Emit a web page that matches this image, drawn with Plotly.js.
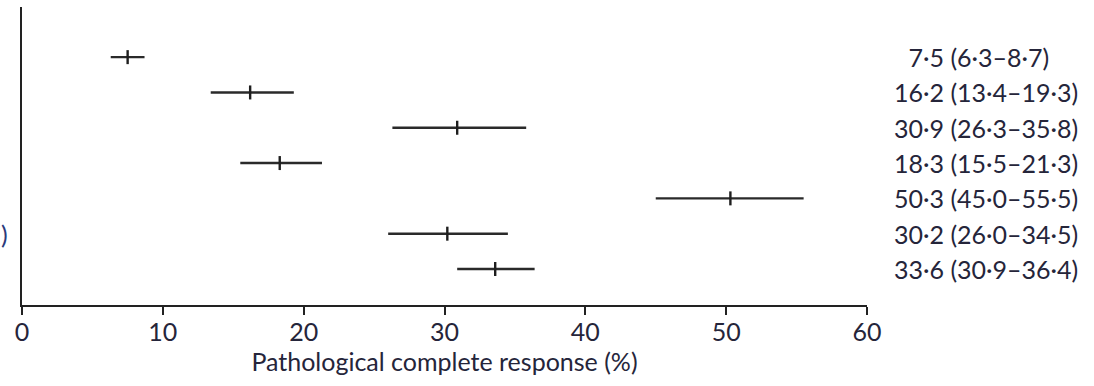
<!DOCTYPE html>
<html>
<head>
<meta charset="utf-8">
<script src="https://cdn.plot.ly/plotly-3.0.1.min.js"></script>
<style>html,body{margin:0;padding:0;background:#fff;}#chart{width:1094px;height:386px;}</style>
</head>
<body>
<div id="chart"></div>
<script>
const rows = ['r1','r2','r3','r4','r5','r6','r7'];
const estimate = [7.5, 16.2, 30.9, 18.3, 50.3, 30.2, 33.6];
const ciLow = [6.3, 13.4, 26.3, 15.5, 45.0, 26.0, 30.9];
const ciHigh = [8.7, 19.3, 35.8, 21.3, 55.5, 34.5, 36.4];
const rightLabels = ['\u20077·5 (6·3–8·7)', '16·2 (13·4–19·3)', '30·9 (26·3–35·8)', '18·3 (15·5–21·3)', '50·3 (45·0–55·5)', '30·2 (26·0–34·5)', '33·6 (30·9–36·4)'];
const tickVals = [0, 10, 20, 30, 40, 50, 60];
const tickText = ['0', '10', '20', '30', '40', '50', '60'];
const xTitle = 'Pathological complete response (%)';

const FONT = 'Lato, "Open Sans", sans-serif';
const TXT = '#25253a';
const FS = 25;

const trace = {
  type: 'scatter',
  mode: 'markers',
  x: estimate,
  y: rows,
  marker: {symbol: 'line-ns', size: 10, line: {width: 2.4, color: '#1e1e1e'}, color: '#1e1e1e'},
  error_x: {
    type: 'data', symmetric: false,
    array: estimate.map((v, i) => ciHigh[i] - v),
    arrayminus: estimate.map((v, i) => v - ciLow[i]),
    width: 0, thickness: 2.4, color: '#2a2a2a'
  },
  hoverinfo: 'skip',
  cliponaxis: false
};

const annotations = rightLabels.map((t, i) => ({
  xref: 'paper', yref: 'y', x: 1.0 + (892 - 867) / 845, y: rows[i],
  text: t, showarrow: false, xanchor: 'left', yanchor: 'middle',
  font: {family: FONT, size: FS, color: TXT}
}));
annotations.push({xref: 'paper', yref: 'y', x: (10 - 22) / 845, y: rows[5], text: ')', showarrow: false,
  xanchor: 'right', yanchor: 'middle', font: {family: FONT, size: FS, color: '#2b3a7a'}});

const layout = {
  width: 1094, height: 386,
  margin: {l: 22, r: 227, t: 7, b: 81, pad: 0},
  paper_bgcolor: '#fff', plot_bgcolor: '#fff',
  showlegend: false,
  font: {family: FONT, size: FS, color: TXT},
  xaxis: {
    range: [0, 60], tickvals: tickVals, ticktext: tickText,
    showline: true, linecolor: '#222', linewidth: 2,
    ticks: 'outside', ticklen: 8, tickwidth: 2, tickcolor: '#222',
    ticklabelstandoff: -4,
    showgrid: false, zeroline: false,
    tickfont: {family: FONT, size: FS, color: TXT},
    title: {text: xTitle, font: {family: FONT, size: FS, color: TXT}, standoff: 4}
  },
  yaxis: {
    type: 'category', categoryarray: rows, categoryorder: 'array',
    range: [7.02, -1.42],
    showline: true, linecolor: '#222', linewidth: 2,
    showticklabels: false, ticks: '', showgrid: false, zeroline: false
  },
  annotations: annotations
};

Plotly.newPlot('chart', [trace], layout, {displayModeBar: false, staticPlot: true});
</script>
</body>
</html>
